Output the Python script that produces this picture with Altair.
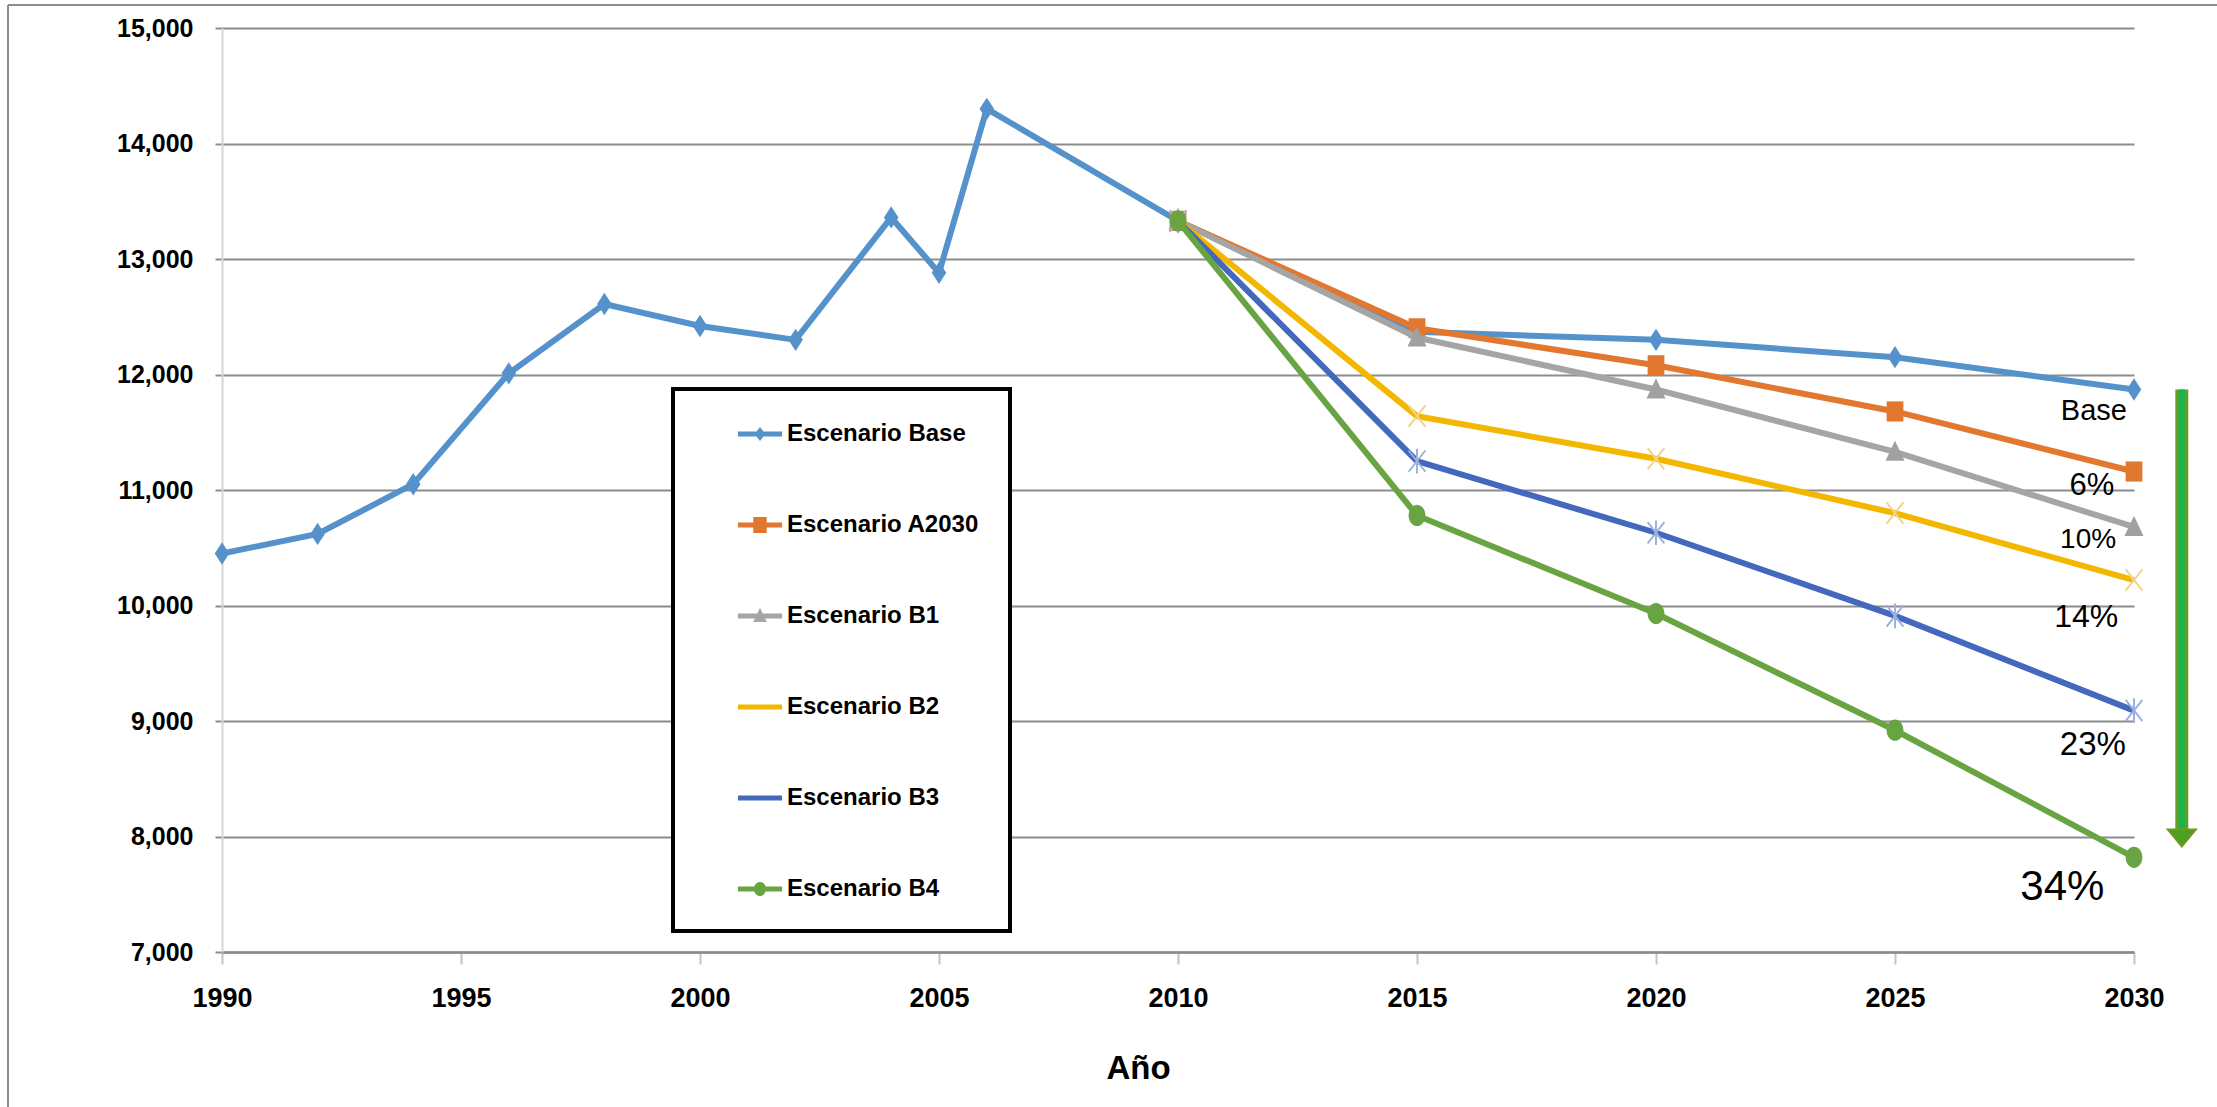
import altair as alt
import pandas as pd

# Serie histórica del escenario base
anios_hist = [1990, 1992, 1994, 1996, 1998, 2000, 2002, 2004, 2005, 2006, 2010]
base_hist = [10450, 10620, 11050, 12010, 12610, 12420, 12300, 13360, 12880, 14300, 13330]

# Proyecciones 2010-2030 por escenario
anios_proy = [2010, 2015, 2020, 2025, 2030]
nombres = ["Escenario Base", "Escenario A2030", "Escenario B1",
           "Escenario B2", "Escenario B3", "Escenario B4"]
proy_base = [13330, 12370, 12300, 12150, 11870]
proy_a2030 = [13330, 12400, 12080, 11680, 11160]
proy_b1 = [13330, 12320, 11870, 11330, 10680]
proy_b2 = [13330, 11640, 11270, 10800, 10220]
proy_b3 = [13330, 11250, 10630, 9910, 9090]
proy_b4 = [13330, 10780, 9930, 8920, 7820]

# Marcas de los ejes
marcas_x = [1990, 1995, 2000, 2005, 2010, 2015, 2020, 2025, 2030]
marcas_y = [7000, 8000, 9000, 10000, 11000, 12000, 13000, 14000, 15000]

# Etiquetas de reducción respecto al escenario base en 2030
etiquetas = ["Base", "6%", "10%", "14%", "23%", "34%"]
etq_anio = [2029.16, 2029.12, 2029.04, 2029.0, 2029.14, 2028.5]
etq_valor = [11684, 11035, 10567, 9900, 8792, 7563]
etq_tam = [29, 31, 28, 32, 33, 42]

# Flecha de reducción
flecha_anio = [2031.0]
flecha_fin = [8060]

colores = ["#5592CC", "#E2772F", "#A5A5A5", "#F3B700", "#4468BE", "#69A442"]
colores_marca = ["#5592CC", "#E2772F", "#A0A0A0", "#F2D486", "#9DB0E0", "#69A442"]

# Marcadores (trazos SVG en unidades del símbolo)
formas = [
    "M0,-1L0.65,0L0,1L-0.65,0Z",
    "M-0.75,-0.9H0.75V0.9H-0.75Z",
    "M0,-1L0.85,0.8H-0.85Z",
    "M-0.75,-0.95L0.75,0.95M-0.75,0.95L0.75,-0.95",
    "M-0.75,-0.95L0.75,0.95M-0.75,0.95L0.75,-0.95M0,-1.1V1.1",
    "M0,-0.95A0.75,0.95,0,1,1,0,0.95A0.75,0.95,0,1,1,0,-0.95Z",
]
rellenos = [True, True, True, False, False, True]

# Símbolos de la leyenda: tramo de línea más marcador (unidad = 15 px)
linea_ley = "M-1.47,-0.17H1.47V0.17H-1.47Z"
formas_leyenda = [
    linea_ley + "M0,-0.47L0.36,0L0,0.47L-0.36,0Z",
    linea_ley + "M-0.45,-0.53H0.45V0.53H-0.45Z",
    linea_ley + "M0,-0.55L0.45,0.4H-0.45Z",
    linea_ley,
    linea_ley,
    linea_ley + "M0,-0.47A0.4,0.47,0,1,1,0,0.47A0.4,0.47,0,1,1,0,-0.47Z",
]

FUENTE = "Liberation Sans, Arial, sans-serif"

series = {
    "Escenario Base": (anios_hist + anios_proy[1:], base_hist + proy_base[1:]),
    "Escenario A2030": (anios_proy, proy_a2030),
    "Escenario B1": (anios_proy, proy_b1),
    "Escenario B2": (anios_proy, proy_b2),
    "Escenario B3": (anios_proy, proy_b3),
    "Escenario B4": (anios_proy, proy_b4),
}
filas = []
for n in nombres:
    xs, ys = series[n]
    for a, v in zip(xs, ys):
        filas.append({"Escenario": n, "Año": a, "Valor": v})
df = pd.DataFrame(filas)

x_enc = alt.X(
    "Año:Q",
    scale=alt.Scale(domain=[1990, 2030], nice=False, zero=False),
    axis=alt.Axis(
        values=marcas_x, format="d", grid=False, title="Año",
        domainColor="#8a8a8a", domainWidth=2.5,
        tickColor="#c4c4c4", tickWidth=2, tickSize=12,
        labelFont=FUENTE, labelFontWeight="bold", labelFontSize=27,
        labelColor="black", labelPadding=21, labelFlush=False,
        titleFont=FUENTE, titleFontWeight="bold", titleFontSize=33,
        titleColor="black", titleX=916, titleY=100,
        titleAlign="center", titleBaseline="top",
    ),
)
y_enc = alt.Y(
    "Valor:Q",
    scale=alt.Scale(domain=[7000, 15000], nice=False, zero=False),
    axis=alt.Axis(
        values=marcas_y, format=",d", title=None, grid=True,
        gridColor="#8c8c8c", gridWidth=2,
        domainColor="#d6d6d6", domainWidth=2,
        tickColor="#8c8c8c", tickWidth=2, tickSize=7,
        labelFont=FUENTE, labelFontWeight="bold", labelFontSize=25,
        labelColor="black", labelPadding=22,
    ),
)

capas = []
for n, c, mc, forma, relleno in zip(nombres, colores, colores_marca, formas, rellenos):
    sub = alt.Chart(df).transform_filter(alt.datum.Escenario == n)
    capas.append(sub.mark_line(color=c, strokeWidth=6).encode(x=x_enc, y=y_enc))
    capas.append(
        sub.mark_point(shape=forma, filled=relleno, color=mc, size=500,
                       opacity=1, strokeWidth=2).encode(x=x_enc, y=y_enc)
    )

# Etiquetas de porcentaje
df_etq = pd.DataFrame({"Año": etq_anio, "Valor": etq_valor,
                       "texto": etiquetas, "tam": etq_tam})
textos = alt.Chart(df_etq).mark_text(
    font=FUENTE, color="black", align="center", baseline="middle"
).encode(x=x_enc, y=y_enc, text="texto:N", size=alt.Size("tam:Q", scale=None))

# Flecha verde
df_flecha = pd.DataFrame({"Año": flecha_anio, "Valor": [proy_base[-1]],
                          "Valor2": flecha_fin})
cuerpo_ext = alt.Chart(df_flecha).mark_rule(color="#6E9A1F", strokeWidth=13).encode(
    x=x_enc, y=y_enc, y2="Valor2:Q")
cuerpo_int = alt.Chart(df_flecha).mark_rule(color="#1FB24A", strokeWidth=7).encode(
    x=x_enc, y=y_enc, y2="Valor2:Q")
punta = alt.Chart(df_flecha).mark_point(
    shape="M-1,0L1,0L0,1.2Z", filled=True, fill="#4E9E22", stroke="#6E9A1F",
    strokeWidth=2, size=784, opacity=1
).encode(x=x_enc, y=alt.Y("Valor2:Q"))

# Leyenda
leyenda = alt.Legend(
    title=None, orient="none", legendX=451, legendY=361, direction="vertical",
    fillColor="white", strokeColor="black", padding=30,
    rowPadding=64, symbolSize=900, symbolStrokeWidth=0, symbolOffset=42,
    labelOffset=12, labelFont=FUENTE, labelFontSize=24, labelFontWeight="bold",
    labelColor="black", labelLimit=0,
)
portador = alt.Chart(df).transform_filter("false").mark_point(
    filled=True, opacity=1
).encode(
    x=x_enc, y=y_enc,
    color=alt.Color("Escenario:N", scale=alt.Scale(domain=nombres, range=colores),
                    legend=leyenda),
    shape=alt.Shape("Escenario:N", scale=alt.Scale(domain=nombres, range=formas_leyenda),
                    legend=leyenda),
)

# Marco exterior
uno = pd.DataFrame({"k": [0]})
marco_izq = alt.Chart(uno).mark_rule(color="#8c8c8c", strokeWidth=2).encode(
    x=alt.value(-214), y=alt.value(-23), y2=alt.value(1079))
marco_sup = alt.Chart(uno).mark_rule(color="#8c8c8c", strokeWidth=2).encode(
    x=alt.value(-214), x2=alt.value(1995), y=alt.value(-23))

chart = alt.layer(
    *capas, textos, cuerpo_ext, cuerpo_int, punta, portador, marco_izq, marco_sup
).properties(
    width=1912, height=924,
    padding={"left": 222, "top": 28, "right": 83, "bottom": 155},
    autosize=alt.AutoSizeParams(type="none"),
).configure_view(stroke=None).configure_legend(strokeWidth=4)

chart.save("out.html", embed_options={"renderer": "svg", "actions": False})
